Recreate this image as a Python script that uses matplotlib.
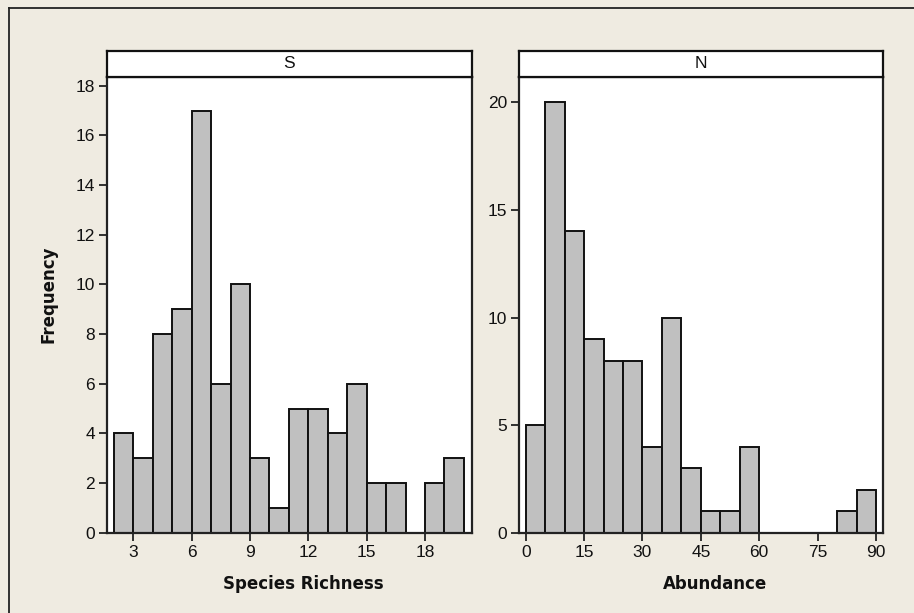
import matplotlib
matplotlib.use("Agg")
import matplotlib.pyplot as plt
from matplotlib.lines import Line2D
import numpy as np

# Histogram counts per bin
s_edges = list(range(2, 21))            # Species Richness bins, width 1
s_counts = [4, 3, 8, 9, 17, 6, 10, 3, 1, 5, 5, 4, 6, 2, 2, 0, 2, 3]
n_edges = list(range(0, 91, 5))         # Abundance bins, width 5
n_counts = [5, 20, 14, 9, 8, 8, 4, 10, 3, 1, 1, 4, 0, 0, 0, 0, 1, 2]

s_xticks = [3, 6, 9, 12, 15, 18]
s_yticks = [0, 2, 4, 6, 8, 10, 12, 14, 16, 18]
n_xticks = [0, 15, 30, 45, 60, 75, 90]
n_yticks = [0, 5, 10, 15, 20]

panel_titles = ["S", "N"]
x_labels = ["Species Richness", "Abundance"]
y_label = "Frequency"

BG = "#EFEBE1"
BAR = "#C0C0C0"
W, H = 914, 613
TICK_FONT = ["Liberation Sans", "DejaVu Sans"]

fig = plt.figure(figsize=(W / 100, H / 100), dpi=100)
fig.patch.set_facecolor(BG)

# frame around the graph region
fig.add_artist(Line2D([9 / W, 1.0], [1 - 8 / H, 1 - 8 / H], color="#222222", lw=1.3,
                      transform=fig.transFigure))
fig.add_artist(Line2D([9 / W, 9 / W], [0.0, 1 - 8 / H], color="#222222", lw=1.3,
                      transform=fig.transFigure))


def px_axes(x0, x1, y0, y1):
    return fig.add_axes([x0 / W, 1 - y1 / H, (x1 - x0) / W, (y1 - y0) / H])


panels = [
    dict(x0=107, x1=471.5, edges=s_edges, counts=s_counts, xticks=s_xticks,
         yticks=s_yticks, xlim=(1.65, 20.39), ylim=(0, 18.35)),
    dict(x0=519, x1=883, edges=n_edges, counts=n_counts, xticks=n_xticks,
         yticks=n_yticks, xlim=(-1.72, 91.8), ylim=(0, 21.18)),
]

for i, p in enumerate(panels):
    ax = px_axes(p["x0"], p["x1"], 77, 532.7)
    ax.set_facecolor("white")
    edges = np.array(p["edges"])
    widths = np.diff(edges)
    ax.bar(edges[:-1], p["counts"], width=widths, align="edge",
           color=BAR, edgecolor="#111111", linewidth=1.4, zorder=2)
    ax.set_xlim(*p["xlim"])
    ax.set_ylim(*p["ylim"])
    ax.set_xticks(p["xticks"])
    ax.set_yticks(p["yticks"])
    ax.tick_params(direction="out", length=6, width=1.3, color="#222222",
                   labelsize=12.5, pad=2.5)
    for lab in ax.get_xticklabels() + ax.get_yticklabels():
        lab.set_family(TICK_FONT)
        lab.set_color("#111111")
    for sp in ax.spines.values():
        sp.set_linewidth(1.6)
        sp.set_color("#222222")
    ax.text(0.538, -0.112, x_labels[i], transform=ax.transAxes, ha="center",
            va="center", fontsize=12, fontweight="bold", family="DejaVu Sans",
            color="#111111")

    # facet strip
    st = px_axes(p["x0"], p["x1"], 51, 77)
    st.set_facecolor("white")
    st.set_xticks([])
    st.set_yticks([])
    for sp in st.spines.values():
        sp.set_linewidth(1.6)
        sp.set_color("#111111")
    st.text(0.5, 0.5, panel_titles[i], ha="center", va="center", fontsize=12.5,
            family=TICK_FONT, color="#111111", transform=st.transAxes)

fig.text(48.7 / W, 1 - 294 / H, y_label, rotation=90, ha="center", va="center",
         fontsize=12, fontweight="bold", family="DejaVu Sans", color="#111111")

fig.savefig("out.png", dpi=100, facecolor=BG)
